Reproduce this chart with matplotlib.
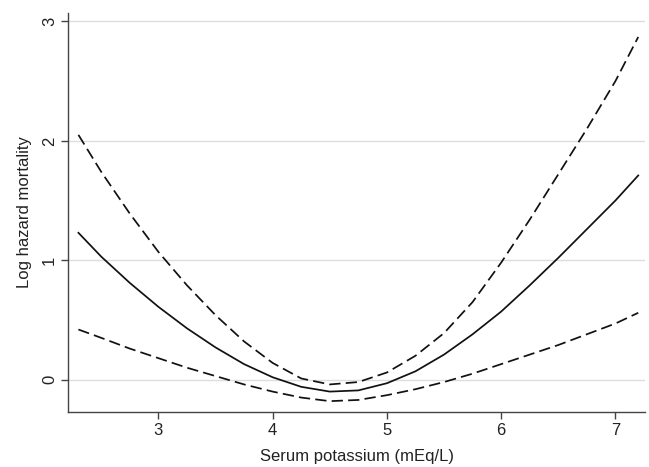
import matplotlib
matplotlib.use('Agg')
import matplotlib.pyplot as plt

plt.rcParams['font.family'] = ['Liberation Sans', 'DejaVu Sans']

# Serum potassium values (mEq/L)
potassium = [2.3, 2.5, 2.75, 3.0, 3.25, 3.5, 3.75, 4.0, 4.25, 4.5, 4.75,
             5.0, 5.25, 5.5, 5.75, 6.0, 6.25, 6.5, 6.75, 7.0, 7.2]

# Log hazard estimate and 95% confidence bounds
log_hazard = [1.23, 1.03, 0.81, 0.61, 0.43, 0.27, 0.13, 0.02, -0.06, -0.10, -0.09,
              -0.03, 0.07, 0.21, 0.38, 0.57, 0.79, 1.02, 1.26, 1.50, 1.71]
upper_ci = [2.05, 1.74, 1.39, 1.07, 0.79, 0.54, 0.32, 0.14, 0.01, -0.04, -0.02,
            0.06, 0.20, 0.39, 0.65, 0.98, 1.34, 1.72, 2.10, 2.50, 2.87]
lower_ci = [0.42, 0.35, 0.26, 0.18, 0.10, 0.03, -0.04, -0.10, -0.15, -0.18, -0.17,
            -0.13, -0.08, -0.02, 0.05, 0.13, 0.21, 0.29, 0.38, 0.47, 0.56]

x_ticks = [3, 4, 5, 6, 7]
y_ticks = [0, 1, 2, 3]

fig = plt.figure(figsize=(6.49, 4.67), dpi=100)
ax = fig.add_axes([0.105, 0.118, 0.889, 0.854])

for y in y_ticks:
    ax.axhline(y, color='#dddddd', lw=1.0, zorder=0)

ax.plot(potassium, upper_ci, color='#111111', lw=1.25, dashes=(6.5, 3.0))
ax.plot(potassium, log_hazard, color='#111111', lw=1.25)
ax.plot(potassium, lower_ci, color='#111111', lw=1.25, dashes=(6.5, 3.0))

ax.set_xlim(2.21, 7.26)
ax.set_ylim(-0.27, 3.07)
ax.set_xticks(x_ticks)
ax.set_yticks(y_ticks)
ax.tick_params(axis='both', direction='out', length=5, width=1, color='#444444',
               labelsize=12, labelcolor='#222222', pad=3)
for lab in ax.get_yticklabels():
    lab.set_rotation(90)
    lab.set_va('center')

for side in ['top', 'right']:
    ax.spines[side].set_visible(False)
for side in ['left', 'bottom']:
    ax.spines[side].set_color('#444444')
    ax.spines[side].set_linewidth(1.0)

ax.set_xlabel('Serum potassium (mEq/L)', fontsize=12, color='#222222', labelpad=8)
ax.set_ylabel('Log hazard mortality', fontsize=12, color='#222222', labelpad=7)

fig.savefig('out.png', dpi=100)
